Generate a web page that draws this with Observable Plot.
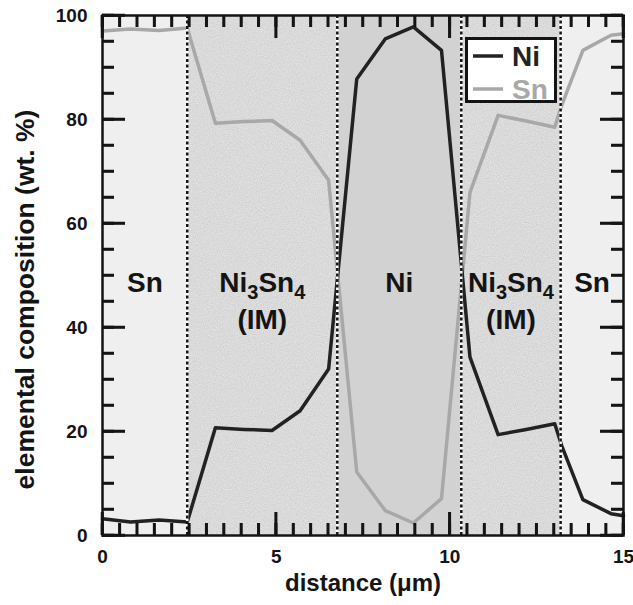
<!DOCTYPE html>
<html><head><meta charset="utf-8">
<script src="https://cdn.jsdelivr.net/npm/d3@7"></script>
<script src="https://cdn.jsdelivr.net/npm/@observablehq/plot@0.6"></script>
<style>
body{margin:0;background:#fff;}
#wrap{position:relative;width:633px;height:605px;}
</style></head><body><div id="wrap"></div>
<script>
// ---- data ----
const distance = [0, 0.81, 1.63, 2.44, 3.25, 4.07, 4.88, 5.69, 6.51, 7.32, 8.14, 8.95, 9.76, 10.58, 11.39, 12.2, 13.02, 13.22, 13.83, 14.64, 15];
const ni = [3.2, 2.6, 3.0, 2.6, 20.7, 20.4, 20.2, 24.0, 32.0, 87.8, 95.5, 97.8, 93.3, 34.3, 19.4, 20.4, 21.5, 17.3, 6.9, 4.2, 3.8];
const sn = [97.0, 97.4, 97.1, 97.6, 79.3, 79.6, 79.8, 76.0, 68.3, 12.2, 4.8, 2.4, 7.1, 66.0, 80.8, 79.7, 78.5, 82.7, 93.3, 96.2, 96.5];
const boundaries = [0, 2.44, 6.76, 10.33, 13.19, 15];
const regionNames = ["Sn", "Ni3Sn4", "Ni", "Ni3Sn4", "Sn"];
const regionSub = ["", "(IM)", "", "(IM)", ""];
const xDomain = [0, 15];
const yDomain = [0, 100];
const xTickLabels = [0, 5, 10, 15];
const yTickLabels = [0, 20, 40, 60, 80, 100];
const seriesNames = ["Ni", "Sn"];
const xLabel = "distance (μm)";
const yLabel = "elemental composition (wt. %)";

// ---- layout / style ----
const W = 633, H = 605, mL = 102, mR = 10, mT = 15, mB = 70;
const pw = W - mL - mR, ph = H - mT - mB;
const ink = "#141414";
const fills = {Sn: "#efefef", Ni3Sn4: "#dadada", Ni: "#d2d2d2"};
const seriesColor = {Ni: "#222222", Sn: "#a8a8a8"};
const font = '"Liberation Sans", Arial, Helvetica, sans-serif';

const regions = regionNames.map((name, i) => ({
  name, sub: regionSub[i], x1: boundaries[i], x2: boundaries[i + 1],
  mid: (boundaries[i] + boundaries[i + 1]) / 2
}));
const inner = boundaries.slice(1, -1);
const xMinor = d3.range(xDomain[0], xDomain[1] + 0.001, 0.5);
const yMinor = d3.range(yDomain[0], yDomain[1] + 0.001, 5);
const minorLen = 12, majorLen = 23;
const tickStyle = {stroke: ink, strokeWidth: 2.5};

const plot = Plot.plot({
  width: W, height: H,
  marginLeft: mL, marginRight: mR, marginTop: mT, marginBottom: mB,
  style: {fontFamily: font, fontWeight: "bold", background: "#fff", color: ink},
  x: {domain: xDomain},
  y: {domain: yDomain},
  marks: [
    Plot.rect(regions.filter(r => r.name === "Sn"), {x1: "x1", x2: "x2", fill: fills.Sn}),
    Plot.rect(regions.filter(r => r.name === "Ni3Sn4"), {x1: "x1", x2: "x2", fill: fills.Ni3Sn4}),
    Plot.rect(regions.filter(r => r.name === "Ni"), {x1: "x1", x2: "x2", fill: fills.Ni}),
    Plot.text(regions, {x: "mid", y: 48.5, text: "name", fontSize: 28, fontWeight: "bold", fill: ink}),
    Plot.text(regions.filter(r => r.sub), {x: "mid", y: 41.5, text: "sub", fontSize: 28, fontWeight: "bold", fill: ink}),
    Plot.lineY(sn, {x: distance, stroke: seriesColor.Sn, strokeWidth: 3.5, strokeLinejoin: "round"}),
    Plot.lineY(ni, {x: distance, stroke: seriesColor.Ni, strokeWidth: 3.5, strokeLinejoin: "round"}),
    // inward ticks, bottom and top
    Plot.ruleX(xMinor, {...tickStyle, insetTop: ph - minorLen}),
    Plot.ruleX(xMinor, {...tickStyle, insetBottom: ph - minorLen}),
    Plot.ruleX(xTickLabels, {...tickStyle, insetTop: ph - majorLen}),
    Plot.ruleX(xTickLabels, {...tickStyle, insetBottom: ph - majorLen}),
    // inward ticks, left and right
    Plot.ruleY(yMinor, {...tickStyle, insetRight: pw - minorLen}),
    Plot.ruleY(yMinor, {...tickStyle, insetLeft: pw - minorLen}),
    Plot.ruleY(yTickLabels, {...tickStyle, insetRight: pw - majorLen}),
    Plot.ruleY(yTickLabels, {...tickStyle, insetLeft: pw - majorLen}),
    Plot.axisX(xTickLabels, {tickSize: 0, tickPadding: 14, fontSize: 19, fontWeight: "bold", label: null}),
    Plot.axisY(yTickLabels, {tickSize: 0, tickPadding: 15, fontSize: 19, fontWeight: "bold", label: null}),
    Plot.text([xLabel], {frameAnchor: "bottom", dy: 55, fontSize: 24, fontWeight: "bold", fill: ink}),
    Plot.text([yLabel], {frameAnchor: "left", textAnchor: "middle", dx: -77, dy: 24, rotate: -90, fontSize: 26.5, fontWeight: "bold", fill: ink}),
    // region boundaries (dotted)
    Plot.ruleX(inner, {stroke: "#fff", strokeWidth: 2.5}),
    Plot.ruleX(inner, {stroke: ink, strokeWidth: 2.5, strokeDasharray: "3,2.5"}),
    Plot.frame({stroke: ink, strokeWidth: 2.5})
  ]
});

const svg = d3.select(plot);
// grain texture for the intermetallic regions
const defs = svg.insert("defs", ":first-child");
const f = defs.append("filter").attr("id", "grain").attr("x", 0).attr("y", 0)
  .attr("width", 1).attr("height", 1).attr("color-interpolation-filters", "sRGB");
f.append("feTurbulence").attr("type", "fractalNoise").attr("baseFrequency", 0.85)
  .attr("numOctaves", 2).attr("seed", 4).attr("result", "t");
f.append("feColorMatrix").attr("in", "t").attr("type", "matrix")
  .attr("values", "0.33 0.33 0.33 0 0  0.33 0.33 0.33 0 0  0.33 0.33 0.33 0 0  0 0 0 0 1").attr("result", "g");
f.append("feComposite").attr("in", "SourceGraphic").attr("in2", "g").attr("operator", "arithmetic")
  .attr("k1", 0).attr("k2", 1).attr("k3", 0.22).attr("k4", -0.11).attr("result", "c");
f.append("feComposite").attr("in", "c").attr("in2", "SourceGraphic").attr("operator", "in");
svg.selectAll(`g[fill="${fills.Ni3Sn4}"]`).attr("filter", "url(#grain)");

// chemical subscripts
svg.selectAll("text").filter(function () { return this.textContent === "Ni3Sn4"; }).each(function () {
  const t = d3.select(this);
  t.text(null);
  t.append("tspan").text("Ni");
  t.append("tspan").attr("font-size", 20).attr("dy", 7).text("3");
  t.append("tspan").attr("dy", -7).text("Sn");
  t.append("tspan").attr("font-size", 20).attr("dy", 7).text("4");
});

// legend
const lg = svg.append("g").attr("font-family", font).attr("font-weight", "bold").attr("text-anchor", "start");
lg.append("rect").attr("x", 466.5).attr("y", 38.5).attr("width", 89).attr("height", 63)
  .attr("fill", "#fff").attr("stroke", ink).attr("stroke-width", 3);
seriesNames.forEach((name, i) => {
  const yy = 56 + i * 33;
  lg.append("line").attr("x1", 473).attr("x2", 503).attr("y1", yy).attr("y2", yy)
    .attr("stroke", seriesColor[name]).attr("stroke-width", 3.5);
  lg.append("text").attr("x", 512).attr("y", yy + 10).attr("font-size", 28)
    .attr("fill", seriesColor[name]).text(name);
});

// edge ticks also placed through Plot's own scales, on top of everything
try {
  const sx = plot.scale("x"), sy = plot.scale("y");
  const X = v => sx.apply(v), Y = v => sy.apply(v);
  const left = X(xDomain[0]), right = X(xDomain[1]), bottom = Y(yDomain[0]), top = Y(yDomain[1]);
  const tg = svg.append("g").attr("stroke", ink).attr("stroke-width", 2.5);
  const addX = (vals, len) => vals.forEach(v => {
    tg.append("line").attr("x1", X(v)).attr("x2", X(v)).attr("y1", bottom).attr("y2", bottom - len);
    tg.append("line").attr("x1", X(v)).attr("x2", X(v)).attr("y1", top).attr("y2", top + len);
  });
  const addY = (vals, len) => vals.forEach(v => {
    tg.append("line").attr("y1", Y(v)).attr("y2", Y(v)).attr("x1", left).attr("x2", left + len);
    tg.append("line").attr("y1", Y(v)).attr("y2", Y(v)).attr("x1", right).attr("x2", right - len);
  });
  addX(xMinor, minorLen); addX(xTickLabels, majorLen);
  addY(yMinor, minorLen); addY(yTickLabels, majorLen);
} catch (e) { /* keep the chart even if the scale API differs */ }

document.getElementById("wrap").appendChild(plot);
</script>
</body></html>
